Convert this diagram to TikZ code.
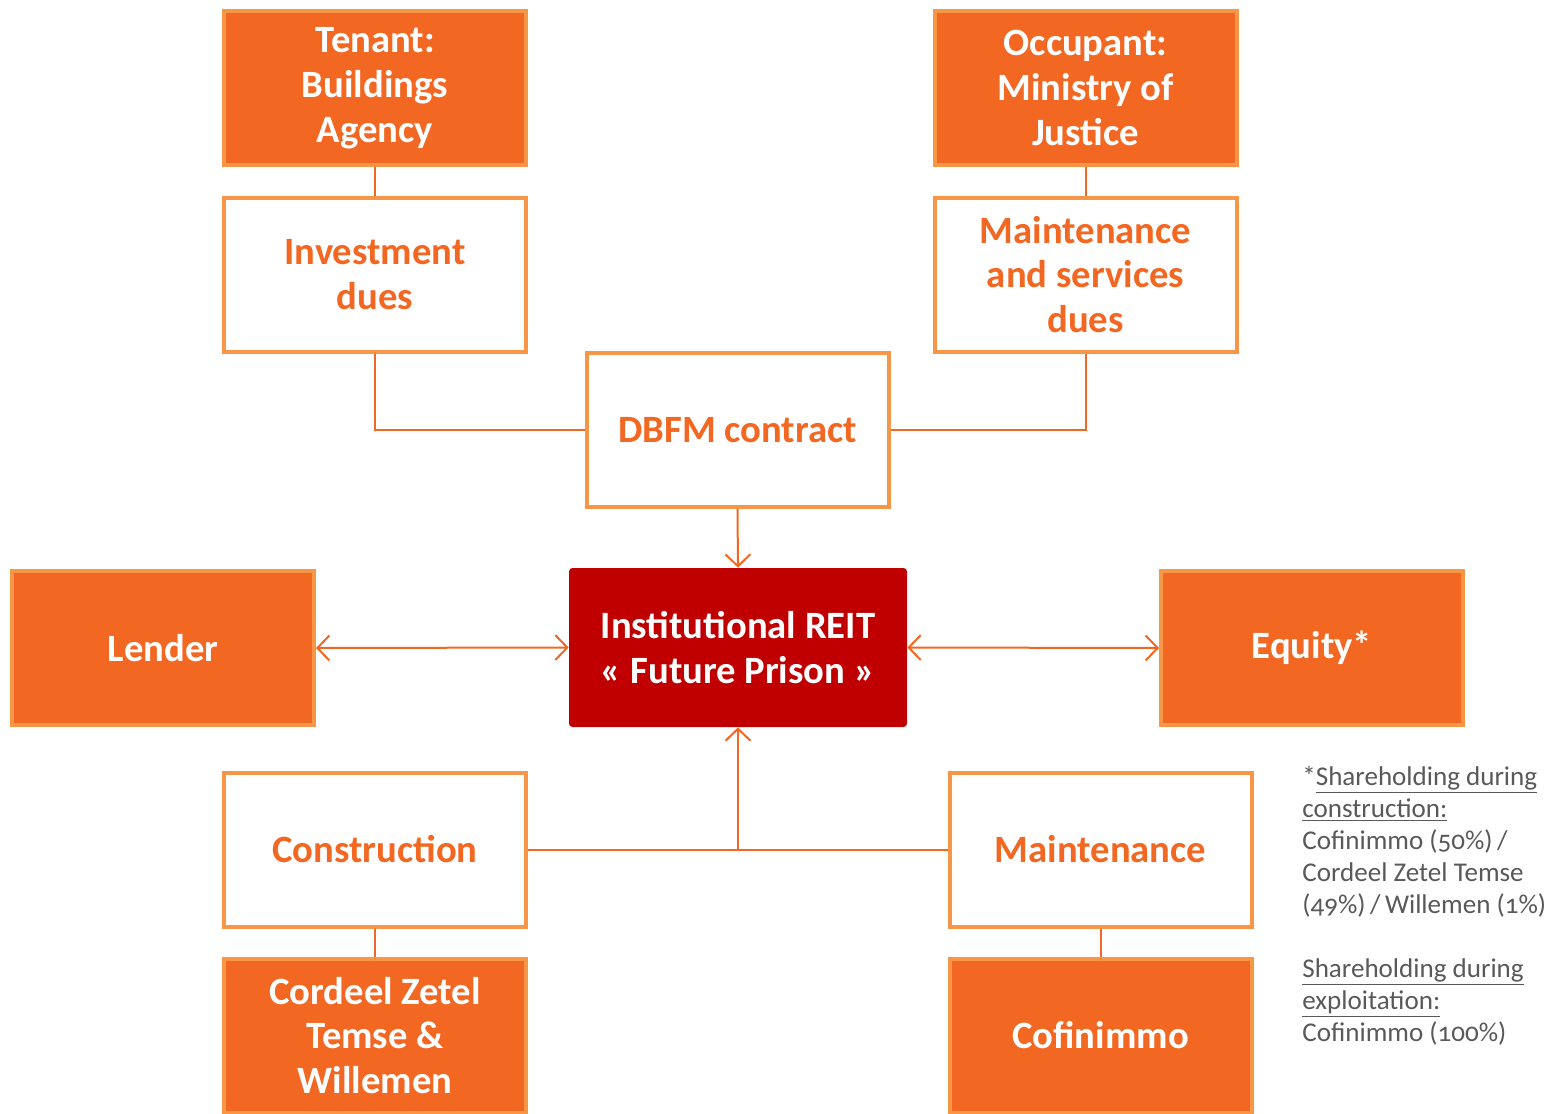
\documentclass[tikz,border=0pt]{standalone}
\usepackage{fontspec}
\setmainfont{Carlito}[Numbers=OldStyle]
\usetikzlibrary{arrows.meta}

\definecolor{orangefill}{HTML}{F26722}
\definecolor{orangeline}{HTML}{F79646}
\definecolor{reitred}{HTML}{C00000}
\definecolor{notegray}{HTML}{595959}

\begin{document}
\begin{tikzpicture}[
    box/.style={draw=orangeline, line width=0.08cm, minimum width=6.04cm, minimum height=3.08cm,
                align=center, font=\fontsize{22}{25.5}\selectfont\bfseries},
    party/.style={box, fill=orangefill, text=white},
    flow/.style={box, fill=white, text=orangefill},
    link/.style={draw=orangefill, line width=0.04cm},
    tip/.style={link, -{Straight Barb[length=0.24cm, width=0.5cm, line width=0.04cm]}},
    both/.style={link, {Straight Barb[length=0.24cm, width=0.5cm, line width=0.04cm]}-{Straight Barb[length=0.24cm, width=0.5cm, line width=0.04cm]}}
]
    \useasboundingbox (0,0) rectangle (31.14,-22.28);

    % parties on top
    \node[party] (tenant) at (7.50,-1.76) {Tenant:\\Buildings\\Agency};
    \node[flow] (invest) at (7.50,-5.49) {Investment\\dues};
    \node[party] (occupant) at (21.71,-1.76) {Occupant:\\Ministry of\\Justice};
    \node[flow] (services) at (21.71,-5.49) {Maintenance\\and services\\dues};
    \node[flow] (dbfm) at (14.75,-8.60) {DBFM contract};

    % middle row
    \node[fill=reitred, rounded corners=2pt, minimum width=6.76cm, minimum height=3.18cm,
          align=center, text=white, font=\fontsize{22}{25.5}\selectfont\bfseries]
          (reit) at (14.76,-12.95) {Institutional REIT\\« Future Prison »};
    \node[party] (lender) at (3.26,-12.96) {Lender};
    \node[party] (equity) at (26.24,-12.96) {Equity*};

    % bottom parties
    \node[flow] (build) at (7.50,-16.99) {Construction};
    \node[flow] (maint) at (22.01,-16.99) {Maintenance};
    \node[party] (cordeel) at (7.50,-20.71) {Cordeel Zetel\\Temse \&\\Willemen};
    \node[party] (cofi) at (22.01,-20.71) {Cofinimmo};

    % shareholding note
    \node[anchor=north west, align=left, inner sep=0pt, text=notegray,
          font=\fontsize{15.4}{18.2}\selectfont] (note) at (26.04,-15.32)
        {*\underline{Shareholding during}\\\underline{construction:}\\Cofinimmo (50\%)\,/\\
         Cordeel Zetel Temse\\(49\%)\,/\,Willemen (1\%)\\[18.2pt]
         \underline{Shareholding during}\\\underline{exploitation:}\\Cofinimmo (100\%)};

    % connectors
    \draw[link] (tenant) -- (invest);
    \draw[link] (occupant) -- (services);
    \draw[link] (invest.south) |- (dbfm.west);
    \draw[link] (services.south) |- (dbfm.east);
    \draw[tip] (dbfm.south) -- (reit.north);
    \draw[both] (lender.east) -- (reit.west);
    \draw[both] (reit.east) -- (equity.west);
    \draw[link] (build.east) -- (maint.west);
    \coordinate (mid) at (reit.south |- build.east);
    \draw[tip] (mid) -- (reit.south);
    \draw[link] (build) -- (cordeel);
    \draw[link] (maint) -- (cofi);
\end{tikzpicture}
\end{document}
